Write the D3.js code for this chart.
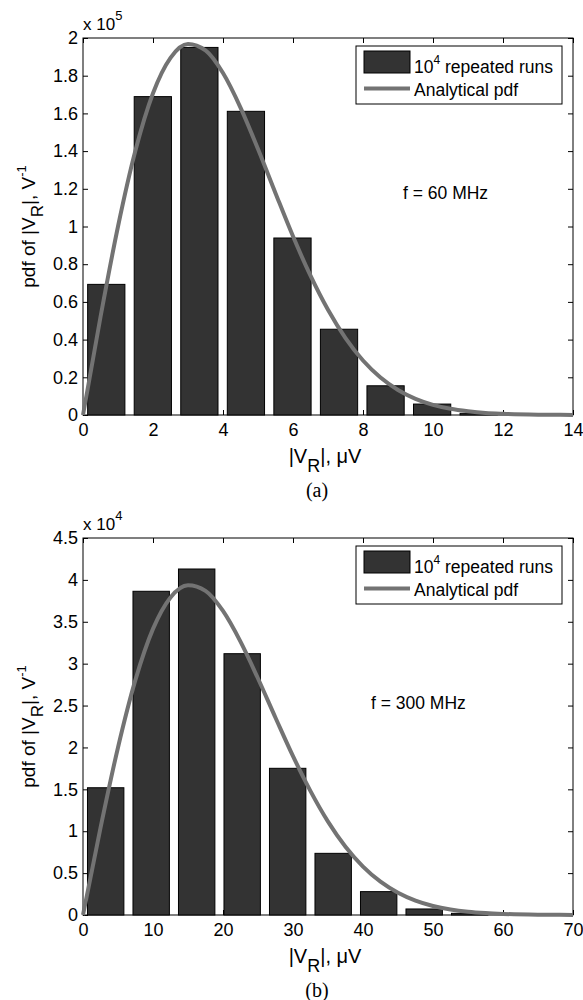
<!DOCTYPE html>
<html>
<head>
<meta charset="utf-8">
<script src="https://cdn.jsdelivr.net/npm/d3@7"></script>
<style>
  body { margin: 0; background: white; }
  text { font-family: "Liberation Sans", Arial, sans-serif; fill: #000; }
</style>
</head>
<body>
<svg id="chart" width="583" height="1000"></svg>
<script>
// (a) f = 60 MHz, |V_R| in uV, pdf in 1/V
const binsA = [0.665, 1.995, 3.325, 4.655, 5.985, 7.315, 8.645, 9.975, 11.305];
const countsA = [69300, 168900, 195000, 161100, 93900, 45500, 15500, 5800, 900];
const pdfAx = [0, 0.5, 1, 1.5, 2, 2.5, 3, 3.5, 4, 4.5, 5, 5.5, 6, 6.5, 7, 7.5, 8, 8.5, 9, 9.5, 10, 10.5, 11, 11.5, 12, 13, 14];
const pdfAy = [0, 52000, 100000, 140400, 170700, 189500, 196800, 193400, 181400, 163100, 141100, 117700, 94800, 73900, 55800, 40800, 28900, 19900, 13300, 8600, 5400, 3300, 2000, 1100, 640, 190, 50];
const xTicksA = [0, 2, 4, 6, 8, 10, 12, 14];
const yTicksA = [0, 20000, 40000, 60000, 80000, 100000, 120000, 140000, 160000, 180000, 200000];

// (b) f = 300 MHz
const binsB = [3.24, 9.74, 16.24, 22.74, 29.24, 35.74, 42.24, 48.74, 55.24];
const countsB = [15190, 38640, 41300, 31190, 17510, 7360, 2790, 720, 200];
const pdfBx = [0, 2.5, 5, 7.5, 10, 12.5, 15, 17.5, 20, 22.5, 25, 27.5, 30, 32.5, 35, 37.5, 40, 42.5, 45, 47.5, 50, 52.5, 55, 57.5, 60, 65, 70];
const pdfBy = [0, 10400, 20000, 28090, 34150, 37910, 39360, 38690, 36290, 32630, 28230, 23550, 18960, 14790, 11150, 8150, 5780, 3980, 2660, 1720, 1080, 660, 390, 230, 130, 38, 10];
const xTicksB = [0, 10, 20, 30, 40, 50, 60, 70];
const yTicksB = [0, 5000, 10000, 15000, 20000, 25000, 30000, 35000, 40000, 45000];

const svg = d3.select("#chart");
const left = 83, right = 573;

function drawPanel(p) {
    const x = d3.scaleLinear().domain([0, p.xTicks[p.xTicks.length - 1]]).range([left, right]);
    const y = d3.scaleLinear().domain([0, p.yTicks[p.yTicks.length - 1]]).range([p.bottom, p.top]);
    const g = svg.append("g");
    const fmt = d => String(+(d / p.scale).toFixed(2));

    // ticks on all four sides, pointing inwards (matlab style)
    const axes = [
        [d3.axisBottom(x).tickValues(p.xTicks).tickFormat(d => String(d)).tickPadding(8), `translate(0,${p.bottom})`],
        [d3.axisTop(x).tickValues(p.xTicks).tickFormat(""), `translate(0,${p.top})`],
        [d3.axisLeft(y).tickValues(p.yTicks).tickFormat(fmt).tickPadding(5), `translate(${left},0)`],
        [d3.axisRight(y).tickValues(p.yTicks).tickFormat(""), `translate(${right},0)`]
    ];
    axes.forEach(([ax, tr]) => {
        const a = g.append("g").attr("transform", tr)
            .call(ax.tickSizeInner(-5).tickSizeOuter(0));
        a.select(".domain").remove();
        a.selectAll("line").attr("stroke", "#000");
        a.selectAll("text").style("font-size", "18px");
    });

    g.append("rect")
        .attr("x", left).attr("y", p.top)
        .attr("width", right - left).attr("height", p.bottom - p.top)
        .attr("fill", "none").attr("stroke", "#000").attr("stroke-width", 1);

    // histogram bars
    const step = p.bins[1] - p.bins[0];
    const bw = step * 0.8;
    g.selectAll("rect.bar")
        .data(p.bins.map((b, i) => ({ b: b, v: p.counts[i] })))
        .join("rect")
        .attr("class", "bar")
        .attr("x", d => x(d.b - bw / 2))
        .attr("width", x(bw) - x(0))
        .attr("y", d => y(d.v))
        .attr("height", d => y(0) - y(d.v))
        .attr("fill", "#333333")
        .attr("stroke", "#000")
        .attr("stroke-width", 1);

    // analytical pdf
    const line = d3.line().x(d => x(d[0])).y(d => y(d[1])).curve(d3.curveMonotoneX);
    g.append("path")
        .datum(p.px.map((v, i) => [v, p.py[i]]))
        .attr("d", line)
        .attr("fill", "none")
        .attr("stroke", "#737373")
        .attr("stroke-width", 4);

    // exponent above y axis
    const ex = g.append("text").attr("x", left).attr("y", p.top - 8).style("font-size", "17px");
    ex.append("tspan").text("x 10");
    ex.append("tspan").attr("dy", -10).style("font-size", "13px").text(p.exp);

    // legend
    const lg = g.append("g").attr("transform", `translate(356,${p.top + 8})`);
    lg.append("rect").attr("width", 206).attr("height", 58)
        .attr("fill", "#fff").attr("stroke", "#000").attr("stroke-width", 1);
    lg.append("rect").attr("x", 8).attr("y", 5).attr("width", 46).attr("height", 22)
        .attr("fill", "#333333").attr("stroke", "#000");
    lg.append("line").attr("x1", 8).attr("x2", 54).attr("y1", 42.5).attr("y2", 42.5)
        .attr("stroke", "#737373").attr("stroke-width", 4);
    const t1 = lg.append("text").attr("x", 58).attr("y", 27).style("font-size", "17.5px");
    t1.append("tspan").text("10");
    t1.append("tspan").attr("dy", -9).style("font-size", "12px").text("4");
    t1.append("tspan").attr("dy", 9).text(" repeated runs");
    lg.append("text").attr("x", 58).attr("y", 50).style("font-size", "17.5px").text("Analytical pdf");

    // frequency annotation
    g.append("text").attr("x", p.noteX).attr("y", p.noteY).style("font-size", "17.5px").text(p.note);

    // x label
    const xl = g.append("text").attr("x", (left + right) / 2 - 3).attr("y", p.bottom + 48)
        .attr("text-anchor", "middle").style("font-size", "20px");
    xl.append("tspan").text("|V");
    xl.append("tspan").attr("dy", 9).style("font-size", "18px").text("R");
    xl.append("tspan").attr("dy", -9).text("|, μV");

    // y label
    const yl = g.append("text")
        .attr("transform", `translate(35,${(p.top + p.bottom) / 2}) rotate(-90)`)
        .attr("text-anchor", "middle").style("font-size", "19px");
    yl.append("tspan").text("pdf of |V");
    yl.append("tspan").attr("dy", 8).style("font-size", "17px").text("R");
    yl.append("tspan").attr("dy", -8).text("|, V");
    yl.append("tspan").attr("dy", -9).style("font-size", "13px").text("-1");

    // caption
    g.append("text").attr("x", 317).attr("y", p.bottom + 82)
        .attr("text-anchor", "middle")
        .style("font-family", "'Liberation Serif', 'Times New Roman', serif")
        .style("font-size", "20px")
        .text(p.caption);
}

drawPanel({
    top: 38, bottom: 415, bins: binsA, counts: countsA, px: pdfAx, py: pdfAy,
    xTicks: xTicksA, yTicks: yTicksA, scale: 1e5, exp: "5",
    note: "f = 60 MHz", noteX: 403, noteY: 199, caption: "(a)"
});
drawPanel({
    top: 538, bottom: 915, bins: binsB, counts: countsB, px: pdfBx, py: pdfBy,
    xTicks: xTicksB, yTicks: yTicksB, scale: 1e4, exp: "4",
    note: "f = 300 MHz", noteX: 371, noteY: 709, caption: "(b)"
});
</script>
</body>
</html>
